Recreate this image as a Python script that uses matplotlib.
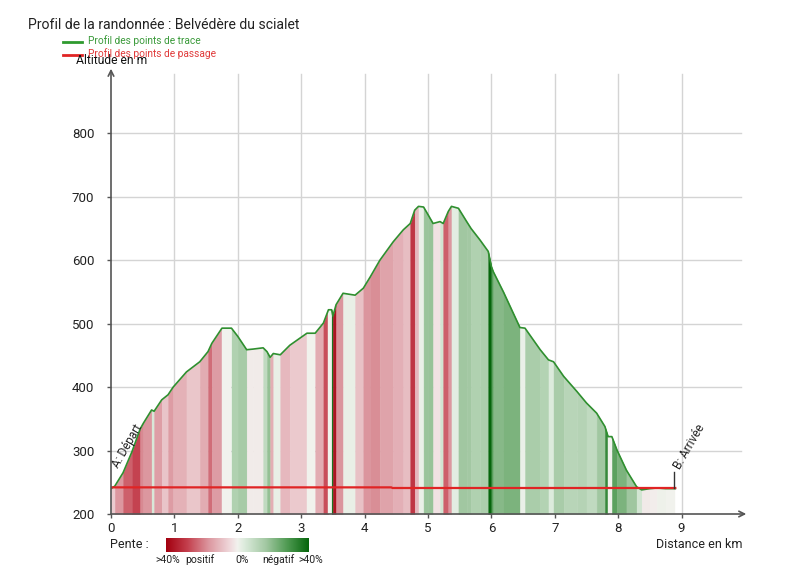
import matplotlib
matplotlib.use("Agg")
import matplotlib.pyplot as plt
import numpy as np
from matplotlib.colors import LinearSegmentedColormap, Normalize
from matplotlib.lines import Line2D

plt.rcParams['font.family'] = ['Roboto', 'DejaVu Sans']

# ---- data ----
dist_km = [0.00, 0.06, 0.19, 0.33, 0.46, 0.51, 0.64, 0.68, 0.80, 0.90, 0.98, 1.19, 1.40, 1.53,
           1.59, 1.75, 1.90, 2.00, 2.14, 2.24, 2.40, 2.46, 2.51, 2.56, 2.67, 2.82, 3.09, 3.22,
           3.35, 3.43, 3.48, 3.50, 3.55, 3.66, 3.85, 3.98, 4.09, 4.24, 4.45, 4.61, 4.72, 4.79,
           4.85, 4.93, 5.00, 5.08, 5.19, 5.24, 5.32, 5.37, 5.48, 5.61, 5.68, 5.82, 5.95, 6.00,
           6.03, 6.19, 6.45, 6.53, 6.77, 6.90, 6.98, 7.14, 7.35, 7.50, 7.66, 7.79, 7.84, 7.90,
           7.98, 8.13, 8.29, 8.37, 8.50, 8.61, 8.75, 8.90]
alt_m = [240, 244, 265, 298, 334, 343, 364, 362, 380, 388, 400, 424, 440, 456,
         469, 493, 493, 480, 459, 460, 462, 456, 447, 453, 451, 466, 485, 485,
         501, 522, 522, 512, 530, 548, 545, 556, 574, 600, 629, 648, 658, 679,
         685, 684, 672, 658, 661, 658, 677, 685, 682, 661, 650, 632, 614, 590,
         582, 550, 494, 493, 459, 443, 440, 417, 393, 375, 359, 338, 322, 322,
         301, 269, 243, 238, 240, 241, 240, 240]

pass_km = [0.0, 4.42, 4.44, 8.9]
pass_alt = [242, 242, 241, 241]

x_ticks = [0, 1, 2, 3, 4, 5, 6, 7, 8, 9]
y_ticks = [200, 300, 400, 500, 600, 700, 800]
title = "Profil de la randonnée : Belvédère du scialet"
legend_labels = ["Profil des points de trace", "Profil des points de passage"]
slope_labels = [">40%", "positif", "0%", "négatif", ">40%"]

# ---- figure ----
W, H = 800, 571
fig = plt.figure(figsize=(W / 100, H / 100), dpi=100)
ax = fig.add_axes([111 / W, 1 - 514 / H, (745 - 111) / W, (514 - 70) / H])
ax.set_xlim(0, 10)
ax.set_ylim(200, 900)

cmap = LinearSegmentedColormap.from_list("pente", [
    (0.00, "#a3000f"), (0.15, "#c4404e"), (0.30, "#dc98a0"), (0.45, "#f0dadd"),
    (0.50, "#f2f2ee"), (0.55, "#dcebdc"), (0.70, "#a2c8a2"), (0.85, "#4f9a52"),
    (1.00, "#06660c")])
norm = Normalize(vmin=-40, vmax=40)

x = np.array(dist_km)
y = np.array(alt_m)
for i in range(len(x) - 1):
    dx = (x[i + 1] - x[i]) * 1000.0
    slope = (y[i + 1] - y[i]) / dx * 100.0
    c = cmap(norm(-slope))
    ax.fill_between([x[i], x[i + 1]], [y[i], y[i + 1]], 200, color=c, lw=0.3, ec=c)

ax.plot(x, y, color="#2f8f2f", lw=1.2, zorder=3)
ax.plot(pass_km, pass_alt, color="#e02424", lw=1.6, zorder=4)

# grid
for xv in x_ticks[1:]:
    ax.plot([xv, xv], [200, 893], color="#d4d4d4", lw=1, zorder=0)
for yv in y_ticks[1:]:
    ax.plot([0, 9.94], [yv, yv], color="#d4d4d4", lw=1, zorder=0)

for s in ["top", "right", "left", "bottom"]:
    ax.spines[s].set_visible(False)
ax.annotate("", xy=(10.02, 200), xytext=(0, 200),
            arrowprops=dict(arrowstyle="->", color="#555555", lw=1.2, shrinkA=0, shrinkB=0),
            annotation_clip=False, zorder=5)
ax.annotate("", xy=(0, 902), xytext=(0, 200),
            arrowprops=dict(arrowstyle="->", color="#555555", lw=1.2, shrinkA=0, shrinkB=0),
            annotation_clip=False, zorder=5)

ax.set_xticks(x_ticks)
ax.set_yticks(y_ticks)
ax.set_xticklabels([str(v) for v in x_ticks])
ax.set_yticklabels([str(v) for v in y_ticks])
ax.tick_params(axis="both", length=3, width=1, color="#555555", labelsize=9.5,
               labelcolor="#222222")
ax.tick_params(axis="y", pad=9)
ax.tick_params(axis="x", pad=3)

# markers
ax.plot([8.88, 8.88], [241, 266], color="#333333", lw=1, zorder=5)
ax.text(0.15, 270, "A: Départ", rotation=60, fontsize=8.5, color="#222222",
        ha="left", va="bottom", rotation_mode="anchor")
ax.text(9.01, 267, "B: Arrivée", rotation=60, fontsize=8.5, color="#222222",
        ha="left", va="bottom", rotation_mode="anchor")

# titles / labels
fig.text(28 / W, 1 - 25 / H, title, fontsize=10.1, color="#222222", ha="left", va="center")
fig.text(76 / W, 1 - 61 / H, "Altitude en m", fontsize=8.7, color="#111111", ha="left", va="center")
fig.add_artist(Line2D([63 / W, 82 / W], [1 - 42 / H, 1 - 42 / H], color="#2f9a2f", lw=2))
fig.text(88 / W, 1 - 41 / H, legend_labels[0], fontsize=7.3, color="#3a9a3a", ha="left", va="center")
fig.add_artist(Line2D([63 / W, 82 / W], [1 - 55 / H, 1 - 55 / H], color="#e02424", lw=2))
fig.text(88 / W, 1 - 54 / H, legend_labels[1], fontsize=7.3, color="#e03a3a", ha="left", va="center")

fig.text(742 / W, 1 - 544 / H, "Distance en km", fontsize=9, color="#222222", ha="right", va="center")
fig.text(110 / W, 1 - 545 / H, "Pente :", fontsize=9, color="#222222", ha="left", va="center")

cax = fig.add_axes([166 / W, 1 - 552 / H, 143 / W, 14 / H])
grad = np.linspace(0, 1, 256).reshape(1, -1)
cax.imshow(grad, aspect="auto", cmap=cmap, extent=[0, 1, 0, 1])
cax.set_axis_off()

lab_x = [168, 200, 242, 278, 311]
for lx, lt in zip(lab_x, slope_labels):
    fig.text(lx / W, 1 - 560 / H, lt, fontsize=7.5, color="#222222", ha="center", va="center")

fig.savefig("out.png", dpi=100)
